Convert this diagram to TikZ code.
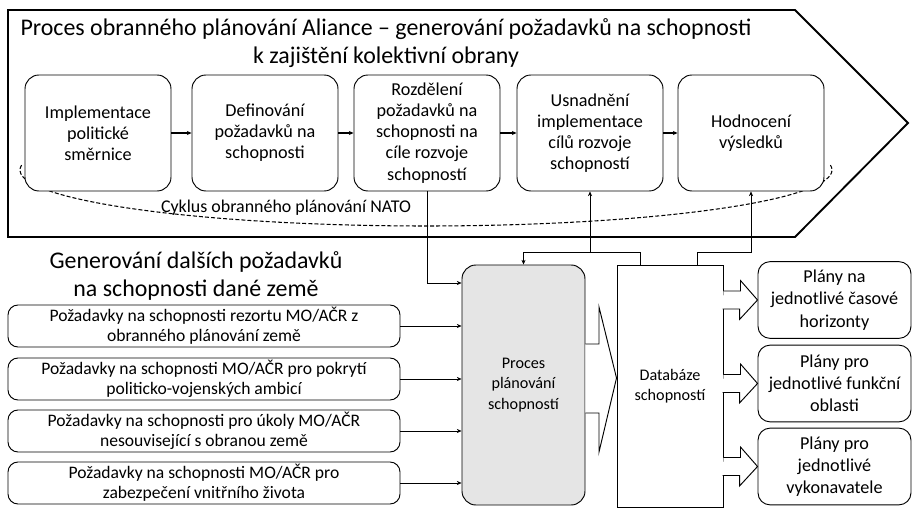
\documentclass[tikz,border=0pt]{standalone}
\usepackage{fontspec}
\setmainfont{Carlito}
\usetikzlibrary{arrows.meta}

\begin{document}
\begin{tikzpicture}[x=0.03cm,y=-0.03cm,
  line width=0.8pt,
  stepbox/.style={draw, rounded corners=0.42cm, fill=white, align=center,
    minimum width=4.38cm, minimum height=3.48cm, inner sep=2pt,
    font=\fontsize{15.5}{18}\selectfont},
  reqbox/.style={draw, rounded corners=0.3cm, align=center,
    minimum width=11.76cm, minimum height=1.26cm, inner sep=0pt,
    font=\fontsize{15}{17.3}\selectfont},
  planbox/.style={draw, rounded corners=0.36cm, align=center,
    minimum width=4.59cm, minimum height=2.3cm, inner sep=0pt,
    font=\fontsize{15.5}{19}\selectfont},
  conn/.style={line width=0.5pt, -{Stealth[length=4pt,width=3.5pt]}},
  hollow/.style={draw, line width=0.8pt, fill=white, line join=miter}]

 \useasboundingbox (0,0) rectangle (913,509);

 %big arrow of the Alliance process
 \draw[line width=1.6pt, line join=miter] (8,10) -- (795,10) -- (908,123) -- (795,237) -- (8,237) -- cycle;
 \node[align=center, font=\fontsize{20.4}{24.5}\selectfont] (title) at (386,43)
  {Proces obranného plánování Aliance -- generování požadavků na schopnosti\\k zajištění kolektivní obrany};

 %NATO cycle
 \draw[dashed, dash pattern=on 3.4pt off 1.8pt, line width=0.9pt] (426,170) ++(185:406 and 56)
  arc[start angle=185, end angle=-5, x radius=406, y radius=56];
 \node[font=\fontsize{15.3}{17}\selectfont] (cycle) at (286,208) {Cyklus obranného plánování NATO};

 %steps of the cycle
 \node[stepbox] (impl) at (98,133) {Implementace\\politické\\směrnice};
 \node[stepbox] (def) at (265,133) {Definování\\požadavků na\\schopnosti};
 \node[stepbox] (roz) at (427,133) {Rozdělení\\požadavků na\\schopnosti na\\cíle rozvoje\\schopností};
 \node[stepbox] (usn) at (590,133) {Usnadnění\\implementace\\cílů rozvoje\\schopností};
 \node[stepbox] (hod) at (751,133) {Hodnocení\\výsledků};

 \draw[conn, line width=1.2pt] (impl) -- (def);
 \draw[conn, line width=1.2pt] (def) -- (roz);
 \draw[conn, line width=1.2pt] (roz) -- (usn);
 \draw[conn, line width=1.2pt] (usn) -- (hod);

 %national requirements
 \node[align=center, font=\fontsize{20.4}{24}\selectfont] (natl) at (196,276)
  {Generování dalších požadavků\\na schopnosti dané země};
 \node[reqbox] (req1) at (204,326) {Požadavky na schopnosti rezortu MO/AČR z\\obranného plánování země};
 \node[reqbox] (req2) at (204,379) {Požadavky na schopnosti MO/AČR pro pokrytí\\politicko-vojenských ambicí};
 \node[reqbox] (req3) at (204,431) {Požadavky na schopnosti pro úkoly MO/AČR\\nesouvisející s obranou země};
 \node[reqbox] (req4) at (204,483) {Požadavky na schopnosti MO/AČR pro\\zabezpečení vnitřního života};

 %capability planning and database
 \node[draw, rounded corners=0.42cm, fill=black!10, align=center,
  minimum width=3.69cm, minimum height=7.2cm,
  font=\fontsize{13.8}{17.5}\selectfont] (proc) at (523.5,385) {Proces\\plánování\\schopností};
 \node[draw, align=center, minimum width=3.18cm, minimum height=7.26cm,
  font=\fontsize{13.8}{17.5}\selectfont] (db) at (670,386) {Databáze\\schopností};

 %plans
 \node[planbox] (plan1) at (834.5,300) {Plány na\\jednotlivé časové\\horizonty};
 \node[planbox] (plan2) at (834.5,383.5) {Plány pro\\jednotlivé funkční\\oblasti};
 \node[planbox] (plan3) at (834.5,466.5) {Plány pro\\jednotlivé\\vykonavatele};

 %inputs into the planning process
 \draw[conn] (roz.south) |- (proc.west |- 0,283);
 \draw[conn] (req1.east) -- (proc.west |- req1.east);
 \draw[conn] (req2.east) -- (proc.west |- req2.east);
 \draw[conn] (req3.east) -- (proc.west |- req3.east);
 \draw[conn] (req4.east) -- (proc.west |- req4.east);

 %feedback from the database
 \draw[conn] (db.north -| 640,0) |- (usn.south |- 0,252) -- (usn.south);
 \draw[conn] (usn.south |- 0,252) -| (proc.north);
 \draw[conn] (db.north -| 697,0) |- (hod.south |- 0,252) -- (hod.south);

 %hollow arrows
 \draw[hollow] (proc.east |- 0,344) -- (599,344) -- (599,307) -- (db.west |- 0,378)
  -- (599,452) -- (599,413) -- (proc.east |- 0,413);
 \foreach \b in {plan1,plan2,plan3}
  \draw[hollow] (db.east |- \b.west) ++(0,-9) -- ++(17,0) -- ++(0,-10.5) -- (\b.west)
   -- ++(-18,19.5) -- ++(0,-10.5) -- ++(-17,0);
\end{tikzpicture}
\end{document}
